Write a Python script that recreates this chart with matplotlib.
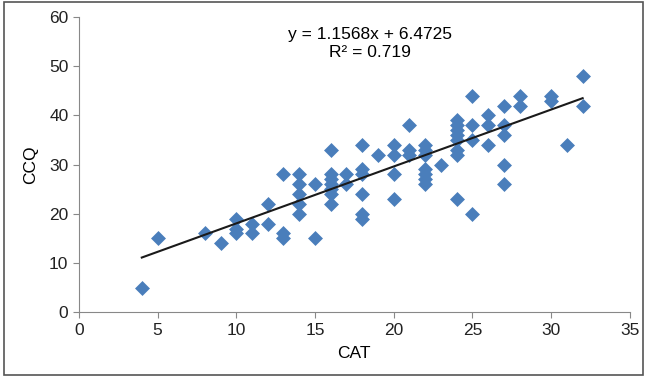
import matplotlib

matplotlib.use("Agg")
import matplotlib.pyplot as plt
import numpy as np
from matplotlib.patches import Rectangle

plt.rcParams["font.family"] = ["Liberation Sans", "DejaVu Sans"]

# CAT scores and matching CCQ scores
cat = [4, 5, 8, 9, 10, 10, 10, 11, 11, 12, 12, 13, 13, 13,
       14, 14, 14, 14, 14, 15, 15, 16, 16, 16, 16, 16, 16, 16,
       17, 17, 18, 18, 18, 18, 18, 18, 19, 20, 20, 20, 20,
       21, 21, 21, 22, 22, 22, 22, 22, 22, 22, 23,
       24, 24, 24, 24, 24, 24, 24, 24, 25, 25, 25, 25,
       26, 26, 26, 27, 27, 27, 27, 27, 28, 28, 30, 30, 31, 32, 32]
ccq = [5, 15, 16, 14, 19, 17, 16, 18, 16, 22, 18, 28, 16, 15,
       28, 26, 24, 22, 20, 26, 15, 33, 28, 27, 26, 25, 24, 22,
       28, 26, 34, 29, 28, 24, 20, 19, 32, 34, 32, 28, 23,
       38, 33, 32, 34, 33, 32, 29, 28, 27, 26, 30,
       39, 38, 37, 36, 35, 33, 32, 23, 44, 38, 35, 20,
       40, 38, 34, 42, 38, 36, 30, 26, 44, 42, 44, 43, 34, 48, 42]

# trendline as reported on the chart
slope, intercept, r2 = 1.1568, 6.4725, 0.719

fig = plt.figure(figsize=(6.46, 3.77), dpi=100)
ax = fig.add_axes([0.122, 0.172, 0.853, 0.783])

ax.scatter(cat, ccq, marker="D", s=58, color="#4A7EBB", linewidths=0, zorder=2)
xfit = np.array([min(cat), max(cat)])
ax.plot(xfit, slope * xfit + intercept, color="#1a1a1a", linewidth=1.5, zorder=3)

ax.text(18.5, 54.7, f"y = {slope}x + {intercept}\nR² = {r2}",
        ha="center", va="center", fontsize=12.5, linespacing=1.25)

ax.set_xlim(0, 35)
ax.set_ylim(0, 60)
ax.set_xticks(range(0, 36, 5))
ax.set_yticks(range(0, 61, 10))
ax.set_xlabel("CAT", fontsize=12.5, labelpad=6)
ax.set_ylabel("CCQ", fontsize=12.5, labelpad=8)
for side in ("top", "right"):
    ax.spines[side].set_visible(False)
for side in ("left", "bottom"):
    ax.spines[side].set_color("#888888")
ax.tick_params(colors="#888888", labelcolor="#222222", labelsize=12.5, length=4)

# thin frame around the whole chart area
fig.patches.append(Rectangle((0.006, 0.006), 0.99, 0.99, transform=fig.transFigure,
                             fill=False, edgecolor="#555555", linewidth=1.2))

fig.savefig("out.png", dpi=100)
plt.close(fig)
